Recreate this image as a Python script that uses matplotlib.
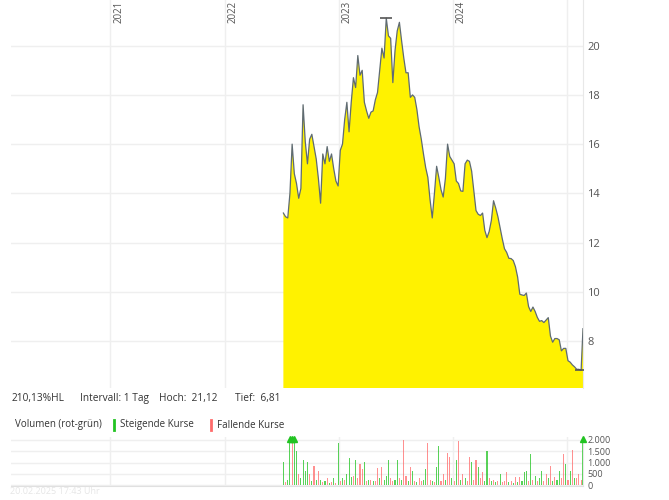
import matplotlib
matplotlib.use('Agg')
import matplotlib.pyplot as plt
import numpy as np
import pandas as pd
from matplotlib.lines import Line2D
from matplotlib.ticker import FuncFormatter

plt.rcParams['font.family'] = ['Open Sans', 'DejaVu Sans']

# ---------------- data ----------------
week_start = '2022-07-08'
n_weeks = 137
last_day = '2025-02-20'

price_weekly = [
    13.2, 13.05, 13.0, 14.0, 16.0, 14.8, 14.4, 13.8, 14.2, 17.6,
    16.1, 15.2, 16.2, 16.4, 15.9, 15.4, 14.6, 13.6, 15.6, 15.2,
    15.9, 15.3, 15.6, 15.0, 14.5, 14.3, 15.75, 16.0, 17.0, 17.7,
    16.5, 17.7, 18.7, 18.3, 19.6, 18.8, 19.0, 17.7, 17.35, 17.05,
    17.3, 17.35, 17.8, 18.1, 19.0, 19.9, 19.5, 21.12, 20.4, 20.3,
    18.5, 19.8, 20.6, 20.95, 20.2, 19.5, 18.9, 18.9, 17.9, 18.0,
    17.9, 17.4, 16.7, 16.2, 15.6, 15.05, 14.65, 13.74, 13.0, 14.0,
    15.1, 14.65, 14.15, 13.85, 14.6, 16.0, 15.5, 15.35, 15.2, 14.5,
    14.4, 14.1, 14.08, 15.2, 15.35, 15.3, 14.9, 14.1, 13.3, 13.15,
    13.1, 13.2, 12.5, 12.2, 12.45, 12.9, 13.7, 13.4, 13.05, 12.6,
    12.15, 11.75, 11.6, 11.36, 11.35, 11.27, 11.02, 10.6, 9.9, 9.87,
    9.85, 9.95, 9.4, 9.2, 9.38, 9.2, 8.96, 8.8, 8.83, 8.75,
    8.85, 8.95, 8.2, 7.95, 8.1, 8.1, 8.05, 7.6, 7.7, 7.7,
    7.2, 7.14, 7.03, 6.95, 6.85, 6.85, 6.81,
]
price_last = 8.5

volume_weekly = [
    1030, 150, 240, 2100, 2100, 2100, 1500, 500, 300, 1100,
    650, 1030, 500, 200, 840, 250, 650, 250, 150, 180,
    300, 120, 150, 300, 100, 1880, 200, 300, 250, 500,
    1220, 350, 400, 1100, 300, 955, 730, 1030, 200, 250,
    250, 180, 200, 775, 300, 800, 250, 400, 1100, 300,
    200, 250, 1100, 300, 250, 1990, 400, 200, 800, 650,
    200, 150, 300, 200, 250, 730, 1880, 250, 200, 150,
    800, 1730, 200, 500, 250, 1430, 1250, 300, 200, 1130,
    1970, 250, 500, 300, 200, 1250, 1030, 250, 1100, 800,
    300, 585, 200, 1520, 300, 200, 250, 150, 200, 500,
    150, 200, 585, 150, 200, 100, 350, 150, 350, 200,
    585, 650, 200, 1370, 250, 400, 200, 300, 625, 200,
    500, 300, 840, 200, 350, 250, 625, 300, 1370, 955,
    250, 650, 1550, 300, 300, 480, 250,
]
volume_last = 2100
direction = [
    'u','d','u','u','d','u','u','d','u','u',
    'u','u','d','u','d','u','d','u','d','u',
    'd','u','d','u','d','u','d','u','d','u',
    'u','u','d','u','d','d','d','u','d','u',
    'd','u','d','d','u','d','u','u','u','d',
    'd','u','u','d','u','d','d','u','d','u',
    'd','u','d','d','u','u','d','d','u','d',
    'u','u','d','d','u','d','d','u','d','u',
    'd','u','d','u','d','d','u','d','d','u',
    'd','d','u','u','d','u','d','u','d','u',
    'd','d','d','u','d','u','d','u','d','u',
    'u','u','d','u','d','u','d','u','u','d',
    'd','u','d','u','d','u','u','d','d','u',
    'd','u','d','u','d','d','d','u',
]

years = [2021, 2022, 2023, 2024, 2025]
price_ticks = [8, 10, 12, 14, 16, 18, 20]
volume_ticks = [0, 500, 1000, 1500, 2000]
info_texts = ['210,13%HL', 'Intervall: 1 Tag', 'Hoch:  21,12', 'Tief:  6,81']

# ---------------- build ----------------
dates = pd.date_range(week_start, periods=n_weeks, freq='W-FRI').append(
    pd.DatetimeIndex([pd.Timestamp(last_day)]))
prices = np.array(price_weekly + [price_last])
volumes = np.array(volume_weekly + [volume_last])
dirs = direction[:len(volumes)]

fig = plt.figure(figsize=(6.69, 5.0), dpi=100)
ax = fig.add_axes([0.0164, 0.2234, 0.8555, 0.7766])
vax = fig.add_axes([0.0164, 0.029, 0.8555, 0.097])

xmin = pd.Timestamp('2020-02-18')
xmax = pd.Timestamp('2025-02-21')
grid_c = '#efefef'
label_c = '#555555'

# price panel
ax.fill_between(dates, prices, 0, color='#fff200', linewidth=0, zorder=2)
ax.plot(dates, prices, color='#5f6b73', lw=0.9, zorder=3)
hi = int(np.argmax(prices))
lo = int(np.argmin(prices))
ax.plot([dates[hi]], [prices[hi]], marker='_', ms=9, mew=1.2, color='#555555', zorder=4)
ax.plot([dates[lo]], [prices[lo]], marker='_', ms=9, mew=1.2, color='#555555', zorder=4)
ax.set_xlim(xmin, xmax)
ax.set_ylim(6.078, 21.857)
ax.set_yticks(price_ticks)
ax.yaxis.tick_right()
ax.tick_params(axis='y', length=0, pad=3, labelsize=8, labelcolor=label_c)
year_dates = [pd.Timestamp(f'{y}-01-01') for y in years]
ax.set_xticks(year_dates)
ax.tick_params(axis='x', length=0, labelbottom=False)
ax.grid(True, color=grid_c, lw=1, zorder=0)
for s in ['top', 'left', 'bottom']:
    ax.spines[s].set_visible(False)
ax.spines['right'].set_color('#e8e8e8')
for y, d in zip(years[:-1], year_dates[:-1]):
    ax.text(d + pd.Timedelta(days=9), 21.83, str(y), rotation=90, ha='left', va='top',
            fontsize=7, color=label_c, zorder=5)

# volume panel
colors = ['#22c322' if d == 'u' else '#ff6b6b' for d in dirs]
vax.bar(dates, volumes, width=3.5, color=colors, alpha=0.75, linewidth=0, zorder=2)
for d, v, c in zip(dates, volumes, colors):
    if v > 2000:
        vax.plot([d], [2050], marker='^', ms=4, color='#22c322', zorder=3, clip_on=False)
vax.set_xlim(xmin, xmax)
vax.set_ylim(-10, 2130)
vax.set_yticks(volume_ticks)
vax.yaxis.tick_right()
vax.yaxis.set_major_formatter(FuncFormatter(lambda v, p: f'{int(v):,}'.replace(',', '.')))
vax.tick_params(axis='y', length=0, pad=3, labelsize=6.5, labelcolor=label_c)
vax.set_xticks(year_dates)
vax.tick_params(axis='x', length=0, labelbottom=False)
vax.grid(True, color=grid_c, lw=1, zorder=0)
for s in ['top', 'left']:
    vax.spines[s].set_visible(False)
vax.spines['right'].set_color('#e8e8e8')
vax.spines['bottom'].set_color('#e0e0e0')

# info row
info_x = [12, 80, 159, 235]
for x, t in zip(info_x, info_texts):
    fig.text(x / 669, 1 - 398 / 500, t, fontsize=7.3, color='#333333', va='center', ha='left')

# volume legend row
fig.text(15 / 669, 1 - 425 / 500, 'Volumen (rot-grün)', fontsize=7, color='#333333', va='center')
fig.add_artist(Line2D([114 / 669] * 2, [1 - 430 / 500, 1 - 420 / 500], color='#22c322', lw=2))
fig.text(120 / 669, 1 - 425 / 500, 'Steigende Kurse', fontsize=7, color='#333333', va='center')
fig.add_artist(Line2D([211 / 669] * 2, [1 - 430 / 500, 1 - 420 / 500], color='#ff6b6b', lw=2))
fig.text(217 / 669, 1 - 425 / 500, 'Fallende Kurse', fontsize=7, color='#333333', va='center')

fig.text(10 / 669, 1 - 491 / 500, '20.02.2025 17:43 Uhr', fontsize=6.5, color='#e6e6e6', va='center')

fig.savefig('out.png', dpi=100)
